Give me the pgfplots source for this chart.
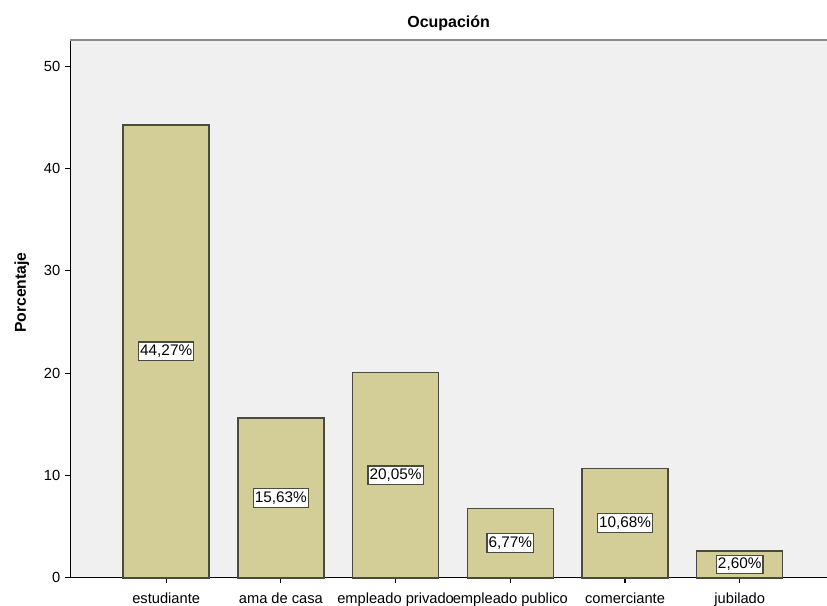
\documentclass[border=0pt]{standalone}
\usepackage{pgfplots}
\usepackage{pgfplotstable}
\usepackage{fontspec}
\setmainfont{Liberation Sans}
\pgfplotsset{compat=1.18}

\definecolor{plotbg}{HTML}{F0F0F0}
\definecolor{barfill}{HTML}{D3CE97}
\definecolor{barline}{HTML}{4A4A40}
\definecolor{framegray}{HTML}{8C8C8C}

% ocupación: posición, porcentaje
\pgfplotstableread{
x v
0 44.27
1 15.63
2 20.05
3 6.77
4 10.68
5 2.60
}\ocupacion

\begin{document}
\begin{tikzpicture}
\useasboundingbox (-52.7pt,-20.5pt) rectangle (567.5pt,433.3pt);
\begin{axis}[
  at={(0pt,0pt)}, anchor=south west,
  width=567.5pt, height=403.5pt, scale only axis,
  xmin=-0.836, xmax=5.761,
  ymin=0, ymax=52.6,
  axis background/.style={fill=plotbg},
  axis x line*=bottom, axis y line*=left,
  axis line style={black, line width=0.8pt},
  tick align=outside, major tick length=4pt,
  tick style={black, line width=0.8pt},
  xtick={0,1,2,3,4,5},
  xticklabels={estudiante, ama de casa, empleado privado, empleado publico, comerciante, jubilado},
  ytick={0,10,20,30,40,50},
  minor tick num=0,
  ticklabel style={font=\fontsize{11}{12}\selectfont},
  yticklabel style={/pgf/number format/assume math mode=true},
  xticklabel style={anchor=base, yshift=-15.5pt},
  ylabel={\textbf{Porcentaje}},
  ylabel style={font=\fontsize{11.8}{13}\selectfont, at={(axis description cs:-0.064,0.53)}, anchor=center},
  title={\textbf{Ocupación}},
  title style={font=\fontsize{12}{14}\selectfont, at={(0.5,1)}, anchor=base, yshift=3pt},
  clip=false,
]
\draw[framegray, line width=1.2pt] (rel axis cs:0,1) -- (rel axis cs:1,1);
\addplot[ybar, bar width=0.75, bar shift=0, fill=barfill, draw=barline, line width=1.1pt]
  table[x=x, y=v] {\ocupacion};
\addplot[only marks, mark=none, point meta=\thisrow{v},
  nodes near coords={\pgfmathprintnumber[fixed, fixed zerofill, precision=2, use comma, assume math mode=true]{\pgfplotspointmeta}\%},
  nodes near coords align=center,
  every node near coord/.style={anchor=center, fill=white, draw=barline, line width=0.9pt,
    inner xsep=1.2pt, inner ysep=2.2pt, font=\fontsize{11.5}{13}\selectfont}]
  table[x=x, y expr=\thisrow{v}/2] {\ocupacion};
\end{axis}
\end{tikzpicture}
\end{document}
